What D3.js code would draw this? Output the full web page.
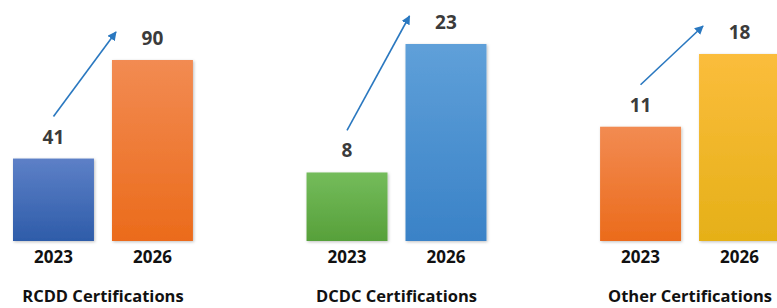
<!DOCTYPE html>
<html lang="en">
  <head>
    <meta charset="utf-8" />
    <title>Certifications 2023 vs 2026</title>
    <script src="https://d3js.org/d3.v7.min.js"></script>
    <style>
      body { margin: 0; background: #fff; }
      svg { display: block; font-family: "Open Sans", Lato, sans-serif; }
    </style>
  </head>
  <body>
    <svg width="777" height="308"></svg>
  </body>
  <script>
    // Data to plot
    const categories = ['RCDD Certifications', 'DCDC Certifications', 'Other Certifications'];
    const years = ['2023', '2026'];
    const values2023 = [41, 8, 11];
    const values2026 = [90, 23, 18];

    // bar fill per panel / year (top, bottom of gradient)
    const fills = [
      [['#5d80c7', '#2e5ca9'], ['#f28b52', '#eb6b1b']],
      [['#74bc5b', '#57a03a'], ['#5fa0d9', '#3a82c7']],
      [['#f28b52', '#eb6b1b'], ['#fbbd3c', '#e5b018']]
    ];
    // top of the tallest bar in each panel (each panel has its own scale)
    const panelTop = [60, 44, 54];

    const svg = d3.select('svg');
    const baseline = 241;

    const defs = svg.append('defs');
    const shadow = defs.append('filter').attr('id', 'shadow')
      .attr('x', '-10%').attr('y', '-10%').attr('width', '130%').attr('height', '130%');
    shadow.append('feDropShadow')
      .attr('dx', 1).attr('dy', 1).attr('stdDeviation', 1.5)
      .attr('flood-color', '#000').attr('flood-opacity', 0.25);

    defs.append('marker')
      .attr('id', 'head')
      .attr('viewBox', '0 0 10 10')
      .attr('refX', 9).attr('refY', 5)
      .attr('markerWidth', 9).attr('markerHeight', 9)
      .attr('markerUnits', 'userSpaceOnUse')
      .attr('orient', 'auto')
      .append('path')
      .attr('d', 'M0,0 L10,5 L0,10 z')
      .attr('fill', '#2a78c0');

    fills.forEach((pair, i) => pair.forEach((c, j) => {
      const g = defs.append('linearGradient')
        .attr('id', `grad${i}${j}`)
        .attr('x1', 0).attr('y1', 0).attr('x2', 0).attr('y2', 1);
      g.append('stop').attr('offset', '0%').attr('stop-color', c[0]);
      g.append('stop').attr('offset', '100%').attr('stop-color', c[1]);
    }));

    // Panels along X
    const panelScale = d3.scaleBand()
      .domain(categories)
      .range([13, 780])
      .paddingInner(0.387);

    const xScale = d3.scaleBand()
      .domain(years)
      .range([0, panelScale.bandwidth()])
      .paddingInner(0.182);

    categories.forEach((cat, i) => {
      const vals = [values2023[i], values2026[i]];
      const yScale = d3.scaleLinear()
        .domain([0, d3.max(vals)])
        .range([baseline, panelTop[i]]);

      const panel = svg.append('g')
        .attr('transform', `translate(${panelScale(cat)}, 0)`);

      const data = years.map((y, j) => ({ year: y, value: vals[j], j }));

      panel.selectAll('rect')
        .data(data)
        .join('rect')
        .attr('x', d => xScale(d.year))
        .attr('y', d => yScale(d.value))
        .attr('width', xScale.bandwidth())
        .attr('height', d => baseline - yScale(d.value))
        .attr('fill', d => `url(#grad${i}${d.j})`)
        .attr('filter', 'url(#shadow)');

      // value labels
      panel.selectAll('text.val')
        .data(data)
        .join('text')
        .attr('class', 'val')
        .attr('x', d => xScale(d.year) + xScale.bandwidth() / 2)
        .attr('y', d => yScale(d.value) - 15)
        .attr('text-anchor', 'middle')
        .attr('font-size', 19)
        .attr('font-weight', 700)
        .attr('fill', '#3b3b3b')
        .text(d => d.value);

      // year labels
      panel.selectAll('text.year')
        .data(data)
        .join('text')
        .attr('class', 'year')
        .attr('x', d => xScale(d.year) + xScale.bandwidth() / 2)
        .attr('y', 263)
        .attr('text-anchor', 'middle')
        .attr('font-size', 17)
        .attr('font-weight', 700)
        .attr('fill', '#111')
        .text(d => d.year);

      // panel title
      panel.append('text')
        .attr('x', panelScale.bandwidth() / 2)
        .attr('y', 302)
        .attr('text-anchor', 'middle')
        .attr('font-size', 16.5)
        .attr('font-weight', 700)
        .attr('fill', '#111')
        .text(cat);

      // growth arrow
      panel.append('line')
        .attr('x1', xScale(years[0]) + xScale.bandwidth() / 2)
        .attr('y1', yScale(vals[0]) - 42)
        .attr('x2', xScale(years[1]) + 4)
        .attr('y2', yScale(vals[1]) - 28)
        .attr('stroke', '#2a78c0')
        .attr('stroke-width', 1.6)
        .attr('marker-end', 'url(#head)');
    });
  </script>
</html>
